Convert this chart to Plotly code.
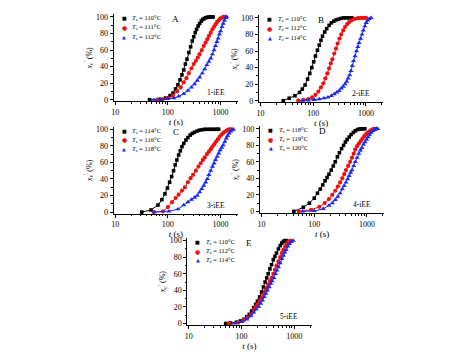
import plotly.graph_objects as go

# ---------------- data ----------------
# Panel A (1-iEE)
A_t110 = [45, 70, 90, 110, 125, 140, 155, 170, 185, 200, 215, 230, 250, 270, 290, 310, 330, 350, 375, 400, 430, 460, 490, 520, 560, 600, 640, 680, 720]
A_x110 = [0, 0.5, 2, 5, 8, 13, 18, 24, 30, 36, 43, 49, 57, 64, 71, 76, 81, 85, 89, 92, 95, 97, 98, 99, 99.5, 100, 100, 100, 100]
A_t111 = [63, 80, 100, 125, 150, 175, 200, 225, 250, 280, 310, 340, 370, 400, 440, 480, 520, 560, 600, 650, 700, 750, 800, 860, 920, 980, 1050, 1120, 1200]
A_x111 = [0, 0.5, 2, 5, 10, 15, 21, 26, 32, 38, 43, 47, 51, 55, 60, 65, 69, 73, 77, 81, 85, 88, 91, 94, 96, 98, 99, 100, 100]
A_t112 = [54, 75, 100, 130, 160, 200, 240, 280, 320, 360, 400, 450, 500, 550, 600, 650, 700, 750, 800, 850, 900, 950, 1000, 1060, 1120, 1180, 1250, 1300]
A_x112 = [0, 0, 1, 2, 4, 7, 11, 15, 19, 23, 27, 32, 37, 42, 46, 50, 55, 60, 65, 70, 74, 79, 83, 88, 92, 96, 99, 100]

# Panel B (2-iEE)
B_t110 = [27, 35, 45, 55, 62, 70, 78, 86, 94, 102, 110, 120, 130, 140, 150, 165, 180, 200, 220, 245, 270, 300, 340, 380, 430, 480, 540]
B_x110 = [0, 3, 6, 10, 14, 19, 26, 33, 40, 47, 54, 61, 67, 73, 78, 83, 87, 91, 94, 96, 97.5, 98.5, 99.5, 100, 100, 100, 100]
B_t112 = [52, 65, 80, 95, 110, 125, 140, 155, 170, 185, 200, 215, 230, 250, 270, 290, 315, 340, 370, 400, 440, 480, 530, 590, 650, 720, 800, 900, 1000]
B_x112 = [0, 1, 2, 4, 7, 11, 16, 21, 27, 33, 39, 45, 50, 57, 63, 69, 75, 80, 85, 89, 92.5, 95, 97, 98.5, 99.3, 99.7, 100, 100, 100]
B_t114 = [62, 80, 105, 130, 160, 190, 220, 250, 280, 310, 340, 370, 400, 430, 460, 490, 520, 550, 580, 620, 660, 700, 740, 790, 840, 890, 950, 1010, 1080, 1150, 1250]
B_x114 = [0, 0.5, 1, 2, 3, 4, 6, 8, 10, 12, 15, 17, 20, 23, 27, 31, 36, 42, 48, 54, 60, 65, 70, 75, 80, 85, 90, 94, 97, 99, 100]

# Panel C (3-iEE)
C_t114 = [32, 48, 65, 77, 88, 98, 108, 118, 128, 138, 148, 160, 172, 185, 200, 220, 240, 265, 290, 320, 360, 400, 450, 500, 560, 630, 700, 780, 860, 920]
C_x114 = [0, 2.5, 8.5, 15, 22, 29, 36, 43, 50, 57, 63, 69, 74, 79, 83, 87, 90, 93, 95, 96.5, 98, 99, 99.5, 100, 100, 100, 100, 100, 100, 100]
C_t116 = [54, 81, 100, 120, 140, 160, 185, 210, 240, 270, 300, 340, 380, 420, 460, 500, 550, 600, 650, 700, 760, 820, 890, 960, 1040, 1120, 1200, 1300, 1400, 1500, 1600]
C_x116 = [0, 1, 6, 12, 17, 21, 26, 30, 36, 41, 45, 50, 55, 59, 63, 66, 70, 73, 76, 79, 82, 85, 88, 91, 93.5, 95.5, 97, 98.5, 99.5, 100, 100]
C_t118 = [55, 105, 155, 200, 240, 280, 320, 360, 400, 440, 480, 520, 560, 600, 650, 700, 750, 800, 860, 920, 980, 1050, 1120, 1200, 1280, 1360, 1450, 1550, 1650, 1750]
C_x118 = [0, 1, 3.5, 8.5, 12, 15, 17.5, 20, 24, 28, 32, 36, 40, 45, 50, 55, 59, 63, 67, 71, 75, 78, 81, 85, 89, 92, 95, 97.5, 99, 100]

# Panel D (4-iEE)
D_t118 = [41, 62, 81, 100, 115, 130, 145, 160, 175, 190, 210, 230, 250, 275, 300, 330, 360, 390, 420, 460, 500, 550, 600, 660, 720, 780, 850, 910]
D_x118 = [0, 5, 10, 16, 22, 27, 32, 37, 41, 45, 50, 55, 60, 66, 71, 76, 80, 84, 87, 90, 93, 95.5, 97.5, 99, 99.7, 100, 100, 100]
D_t119 = [51, 87, 125, 158, 190, 220, 250, 280, 310, 340, 370, 400, 440, 480, 520, 560, 600, 650, 700, 760, 820, 890, 960, 1040, 1120, 1200, 1300, 1400, 1500]
D_x119 = [0, 2, 5.5, 10, 15, 20, 25, 30, 35, 40, 45, 50, 55, 60, 65, 70, 75, 79, 82, 85, 88, 91, 93.5, 95.5, 97, 98.5, 99.5, 100, 100]
D_t120 = [60, 100, 148, 190, 220, 250, 280, 310, 340, 370, 400, 430, 460, 490, 520, 560, 600, 650, 700, 750, 800, 860, 920, 980, 1050, 1120, 1200, 1300, 1400, 1500, 1600]
D_x120 = [0, 0.5, 3, 7, 10, 14, 18, 22, 27, 31, 35, 39, 43, 47, 50, 55, 60, 65, 70, 74, 77, 81, 84, 87, 90, 93, 95.5, 97.5, 99, 100, 100]

# Panel E (5-iEE)
E_t110 = [50, 62, 80, 95, 110, 125, 140, 155, 170, 185, 200, 220, 240, 260, 280, 300, 320, 345, 370, 400, 430, 460, 500, 540, 580, 620, 660, 700]
E_x110 = [0, 0.5, 1.5, 3, 5, 8, 11, 15, 19, 23, 27, 32, 38, 44, 50, 55, 60, 66, 71, 77, 81, 85, 90, 94, 97, 99, 100, 100]
E_t112 = [57, 87, 110, 130, 150, 170, 185, 200, 220, 240, 260, 280, 300, 320, 345, 370, 400, 430, 460, 500, 540, 580, 620, 670, 720, 780, 840]
E_x112 = [0, 1, 4, 7, 11, 16, 20, 23, 27, 31, 35, 39, 43, 47, 51, 55, 60, 65, 70, 75, 80, 85, 89, 93, 96, 99, 100]
E_t114 = [74, 100, 125, 150, 170, 190, 210, 230, 250, 270, 290, 310, 335, 360, 380, 410, 440, 470, 500, 540, 580, 620, 660, 700, 760, 820, 880, 950]
E_x114 = [0, 2, 5, 9, 13, 17, 20, 24, 28, 32, 36, 40, 44, 48, 51, 55, 60, 64, 68, 73, 78, 82, 86, 89, 93, 96, 98.5, 100]

panel_letters = ["A", "B", "C", "D", "E"]
sample_names = ["1-iEE", "2-iEE", "3-iEE", "4-iEE", "5-iEE"]
temps = [["110", "111", "112"], ["110", "112", "114"], ["114", "116", "118"],
         ["118", "119", "120"], ["110", "112", "114"]]
series = [
    [(A_t110, A_x110), (A_t111, A_x111), (A_t112, A_x112)],
    [(B_t110, B_x110), (B_t112, B_x112), (B_t114, B_x114)],
    [(C_t114, C_x114), (C_t116, C_x116), (C_t118, C_x118)],
    [(D_t118, D_x118), (D_t119, D_x119), (D_t120, D_x120)],
    [(E_t110, E_x110), (E_t112, E_x112), (E_t114, E_x114)],
]
x_tickvals = [10, 100, 1000]
x_ticktext = ["10", "100", "1000"]
x_minor = [20, 30, 40, 50, 60, 70, 80, 90, 200, 300, 400, 500, 600, 700, 800, 900, 2000]
y_tickvals = [0, 20, 40, 60, 80, 100]

# ---------------- style ----------------
FONT = "Liberation Serif"
colors = ["#000000", "#ee1111", "#1a2cf0"]
symbols = ["square", "circle", "triangle-up"]
msizes = [3.6, 4.2, 4.6]
glyphs = ["■", "●", "▲"]

OFF = 8  # page body margin
W, H = 474 - OFF, 356 - OFF
# pixel boxes in window coords: (left, right, top, bottom)
boxes = [(112, 237, 12.5, 100.7), (258, 383, 13.5, 101.7),
         (112, 237, 126.5, 214.7), (259, 384, 126, 214),
         (186, 311, 239.5, 327.7)]

fig = go.Figure()
layout = dict(width=W, height=H, margin=dict(l=0, r=0, t=0, b=0),
              paper_bgcolor="white", plot_bgcolor="white", showlegend=False,
              font=dict(family=FONT, size=8, color="black"))
annotations = []

for i in range(5):
    sfx = "" if i == 0 else str(i + 1)
    xa, ya = "x" + sfx, "y" + sfx
    l, r, t, b = [v - OFF for v in boxes[i]]
    for j in range(3):
        tt, xx = series[i][j]
        fig.add_trace(go.Scatter(
            x=tt, y=xx, xaxis=xa, yaxis=ya, mode="lines+markers",
            line=dict(color=colors[j], width=1),
            marker=dict(symbol=symbols[j], size=msizes[j], color=colors[j], line=dict(width=0)),
            cliponaxis=False))
    layout["xaxis" + sfx] = dict(
        domain=[l / W, r / W], anchor=ya, type="log", range=[0.97, 3.33],
        tickvals=x_tickvals, ticktext=x_ticktext, ticks="outside", ticklen=3,
        tickcolor="black", showline=True, linecolor="black", linewidth=1,
        showgrid=False, zeroline=False, tickfont=dict(family=FONT, size=8),
        minor=dict(tickvals=x_minor, ticks="outside", ticklen=1.5, tickcolor="black", showgrid=False),
        title=dict(text="<i>t</i> (s)", font=dict(family=FONT, size=9), standoff=0))
    layout["yaxis" + sfx] = dict(
        domain=[1 - b / H, 1 - t / H], anchor=xa, range=[-2, 103],
        tickvals=y_tickvals, ticks="outside", ticklen=3, tickcolor="black",
        showline=True, linecolor="black", linewidth=1, showgrid=False, zeroline=False,
        tickfont=dict(family=FONT, size=8),
        minor=dict(dtick=10, ticks="outside", ticklen=1.5, tickcolor="black", showgrid=False),
        title=dict(text="<i>x</i><sub>c</sub><sup>′</sup> (%)", font=dict(family=FONT, size=8), standoff=2))
    # legend rows as text
    for j, yy in enumerate([0.955, 0.85, 0.745]):
        annotations.append(dict(xref=xa + " domain", yref=ya + " domain", x=0.085, y=yy,
                                text=glyphs[j], showarrow=False, xanchor="center", yanchor="middle",
                                font=dict(family="DejaVu Sans", size=5 if j != 1 else 6, color=colors[j])))
        annotations.append(dict(xref=xa + " domain", yref=ya + " domain", x=0.135, y=yy,
                                text="<i>T</i><sub>c</sub> = " + temps[i][j] + "°C", showarrow=False,
                                xanchor="left", yanchor="middle", font=dict(family=FONT, size=6.5)))
    annotations.append(dict(xref=xa + " domain", yref=ya + " domain", x=0.5, y=0.945,
                            text=panel_letters[i], showarrow=False, xanchor="center", yanchor="middle",
                            font=dict(family=FONT, size=9)))
    annotations.append(dict(xref=xa + " domain", yref=ya + " domain", x=0.82, y=0.1,
                            text=sample_names[i], showarrow=False, xanchor="center", yanchor="middle",
                            font=dict(family=FONT, size=7.5)))

layout["annotations"] = annotations
fig.update_layout(**layout)
fig.write_html("out.html")
